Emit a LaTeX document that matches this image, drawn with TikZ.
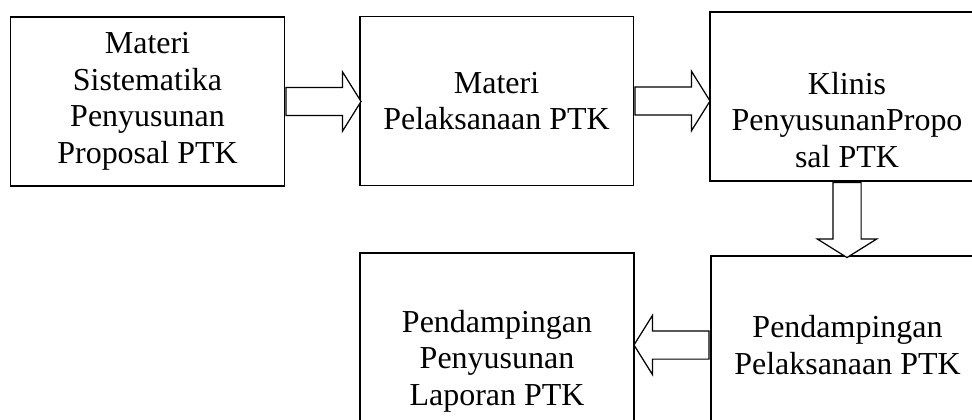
\documentclass[tikz,border=0pt]{standalone}
\usepackage{fontspec}
\setmainfont{Liberation Serif}
\usepackage{tikz}
\usetikzlibrary{positioning, shapes.arrows}

\tikzset{
    kotak/.style = {draw, line width=1.1pt, minimum width=5.48cm, minimum height=3.38cm,
        inner sep=0pt, align=center, font=\fontsize{18.2}{20.8}\selectfont},
    teks/.style = {align=center, inner sep=0pt, font=\fontsize{18.2}{20.8}\selectfont},
    panah/.style = {single arrow, draw, line width=0.7pt, fill=white, minimum height=1.5cm,
        inner sep=0.27cm, single arrow head extend=0.31cm, single arrow tip angle=116, anchor=tail}
}

\begin{document}
\begin{tikzpicture}[x=0.02cm, y=-0.02cm]
    \useasboundingbox (0, 0) rectangle (972, 419);
    \clip (0, 0) rectangle (972, 419);

    % baris atas
    \node [kotak] (sistematika) at (147.5, 101.5) {Materi\\Sistematika\\Penyusunan\\Proposal PTK};
    \node [kotak] (pelaksanaan) at (496.5, 101) {Materi\\Pelaksanaan PTK};
    \node [kotak, label={[teks, yshift=-13.4pt]center:{Klinis\\PenyusunanPropo\\sal PTK}}] (klinis) at (847, 96.5) {};

    % baris bawah
    \node [kotak, minimum height=3.56cm] (dampingpel) at (847.5, 345) {Pendampingan\\Pelaksanaan PTK};
    \node [kotak, minimum height=4.32cm] (damplapor) at (497, 361) {Pendampingan\\Penyusunan\\Laporan PTK};

    \node [panah] (p1) at (sistematika.east) {};
    \node [panah] (p2) at (pelaksanaan.east) {};
    \node [panah, shape border rotate=270] (p3) at (klinis.south) {};
    \node [panah, shape border rotate=180] (p4) at (dampingpel.west) {};
\end{tikzpicture}
\end{document}
